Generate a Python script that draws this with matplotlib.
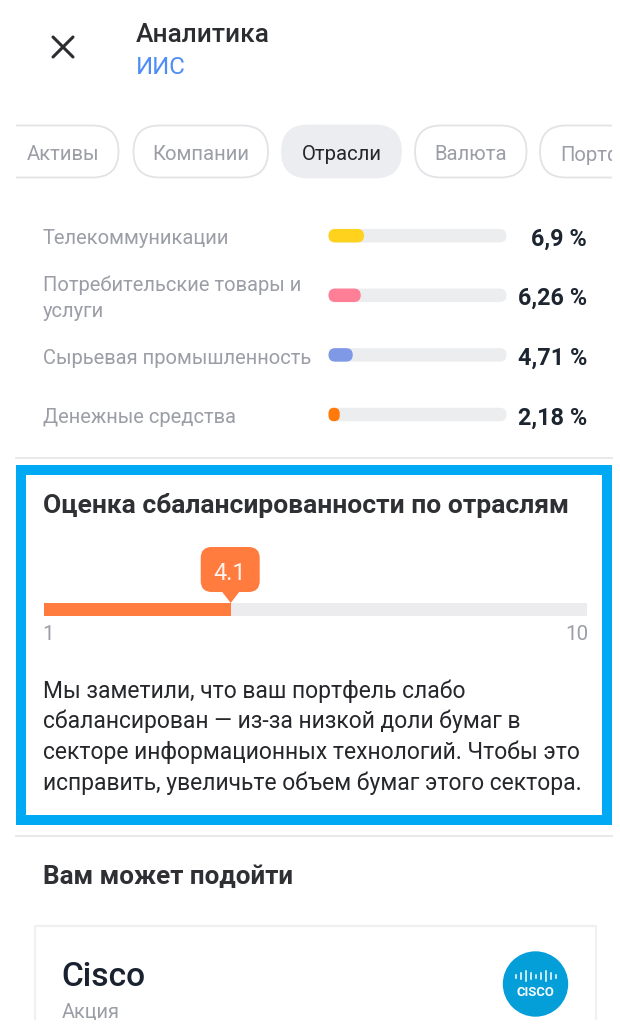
import matplotlib
matplotlib.use("Agg")
import matplotlib.pyplot as plt
from matplotlib.patches import FancyBboxPatch, Rectangle, Polygon, Circle
from matplotlib.patches import BoxStyle

plt.rcParams['font.family'] = ['Roboto', 'DejaVu Sans']

sectors = ["Телекоммуникации", "Потребительские товары и\nуслуги", "Сырьевая промышленность", "Денежные средства"]
shares = [6.9, 6.26, 4.71, 2.18]
share_labels = ["6,9 %", "6,26 %", "4,71 %", "2,18 %"]
bar_colors = ["#FFD21E", "#FF7F96", "#8099E6", "#FF7A0A"]
tabs = ["Активы", "Компании", "Отрасли", "Валюта", "Портф"]
score = 4.1
score_min, score_max = 1, 10
body = ["Мы заметили, что ваш портфель слабо",
        "сбалансирован — из-за низкой доли бумаг в",
        "секторе информационных технологий. Чтобы это",
        "исправить, увеличьте объем бумаг этого сектора."]

W, H = 620, 1036
DARK = "#2E3033"
GREY = "#9B9EA6"
TRACK = "#ECEDEF"
ORANGE = "#FF7B3E"
fig = plt.figure(figsize=(W/100, H/100), dpi=100, facecolor="white")
ax = fig.add_axes([0, 0, 1, 1])
ax.set_xlim(0, W); ax.set_ylim(H, 0); ax.axis("off")

def sub_axes(x0, x1, y0, y1):
    a = fig.add_axes([x0/W, 1-y1/H, (x1-x0)/W, (y1-y0)/H])
    a.axis("off")
    return a

def T(x, y, s, size, color=DARK, weight="normal", ha="left", **kw):
    return ax.text(x, y, s, fontsize=size*0.72, color=color, fontweight=weight, ha=ha, va="center", **kw)

# header
ax.plot([53, 73], [37, 57], color="#2B2D30", lw=2.2, solid_capstyle="round")
ax.plot([53, 73], [57, 37], color="#2B2D30", lw=2.2, solid_capstyle="round")
T(136, 35, "Аналитика", 26.2, "#2B2D30", 500)
T(136, 68, "ИИС", 24, "#4F8DF5")

# tabs
clip = Rectangle((16, 100), 596, 100, transform=ax.transData)
pills = [(-20, 118.5), (133.5, 268), (282, 401), (415, 526.5), (540, 680)]
for i, (name, (a, b)) in enumerate(zip(tabs, pills)):
    active = i == 2
    p = FancyBboxPatch((a, 125.5), b-a, 52, boxstyle="round,pad=0,rounding_size=26",
                       fc="#ECEDF0" if active else "white", ec="#ECEDF0" if active else "#E2E3E6", lw=1.3)
    ax.add_patch(p); p.set_clip_path(clip)
    cx = (a+b)/2
    if i == 0:
        t = T(27, 155, name, 20.3, GREY)
    elif i == 4:
        t = T(560, 155, name, 20.3, GREY)
    else:
        t = T(cx, 155, name, 20.3, "#23262B" if active else GREY, ha="center")
    t.set_clip_on(True)
    t.set_clip_path(clip)

# sector bars
PX = 5.15
RY = 59.6
bax = sub_axes(328.5, 506.5, 205.9, 444.3)
bax.set_xlim(0, 178/PX); bax.set_ylim(3.5, -0.5)
def rbar(a, y, v, color, z):
    h = 13.5/RY
    r_px = min(6.75, v*PX/2)
    a.add_patch(FancyBboxPatch((0, y-h/2), v, h, boxstyle=BoxStyle("Round", pad=0, rounding_size=r_px/PX),
                               mutation_aspect=PX/RY, fc=color, ec="none", zorder=z))
for i, (name, v, lab, c) in enumerate(zip(sectors, shares, share_labels, bar_colors)):
    rbar(bax, i, 178/PX, TRACK, 1)
    rbar(bax, i, v, c, 2)
    yc = 236 + i*59.6
    if "\n" in name:
        a_, b_ = name.split("\n")
        T(43, yc-10.5, a_, 20.1, GREY); T(43, yc+16, b_, 20.1, GREY)
    else:
        T(43, yc+3, name, 20.1, GREY)
    T(587, yc+3, lab, 23.4, "#1D2530", 600, ha="right")

# separators
for y in (458, 836):
    ax.plot([16, 612], [y, y], color="#E8E9EB", lw=1.4)

# highlight frame
ax.add_patch(Rectangle((21, 470), 586, 350, fc="none", ec="#00A9F4", lw=7.2, zorder=5))

# score section
T(43, 505, "Оценка сбалансированности по отраслям", 26.4, DARK, "bold")
sax = sub_axes(43.5, 587, 603, 616)
sax.set_xlim(score_min, score_max); sax.set_ylim(0, 1)
sax.barh([0.5], [score_max-score_min], left=score_min, height=1, color="#ECECEE")
sax.barh([0.5], [score-score_min], left=score_min, height=1, color=ORANGE)
x_s = 43.5 + (score-score_min)/(score_max-score_min)*543.5
ax.add_patch(FancyBboxPatch((x_s-30, 547), 59, 45, boxstyle="round,pad=0,rounding_size=11", fc=ORANGE, ec="none"))
ax.add_patch(Polygon([(x_s-10, 590), (x_s+10, 590), (x_s, 603)], fc=ORANGE, ec="none"))
T(x_s-1, 573, f"{score}", 23.5, "#FFF4EE", ha="center")
T(42, 635, str(score_min), 20.5, GREY)
T(588, 635, str(score_max), 20.5, GREY, ha="right")
for i, line in enumerate(body):
    T(43, 691+i*30.7, line, 22.9, "#25272B")

# recommendation
T(43, 877, "Вам может подойти", 26, DARK, "bold")
ax.plot([35, 35, 596, 596], [1020, 926, 926, 1020], color="#F0F0F0", lw=1.6)
T(61.5, 977, "Cisco", 33.5, "#1A2230", 500)
T(62, 1012.5, "Акция", 20, GREY)
ax.add_patch(Circle((535.5, 984), 32.7, fc="#049FD9", ec="none"))
for dx, h in zip(range(-20, 21, 5), [3, 6, 10, 6, 3, 6, 10, 6, 3]):
    ax.plot([535.5+dx]*2, [976-h/2, 976+h/2], color="white", lw=1.1)
T(535.5, 992, "CISCO", 13, "white", "bold", ha="center")
ax.add_patch(Rectangle((0, 1020), W, 16, fc="white", ec="none", zorder=6))

fig.savefig("out.png", dpi=100, facecolor="white")
